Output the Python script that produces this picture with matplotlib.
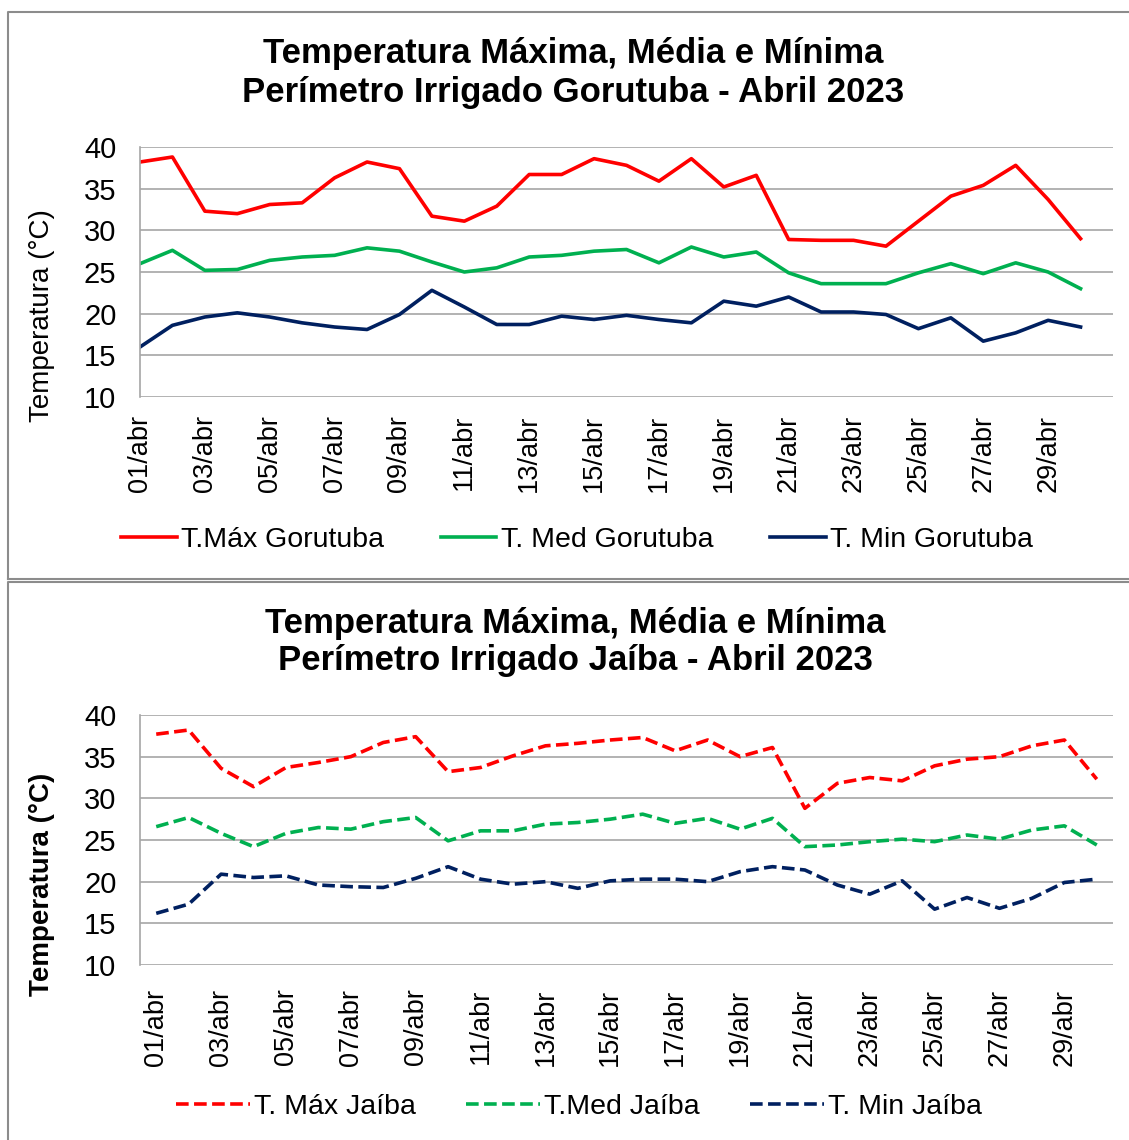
import matplotlib
matplotlib.use("Agg")
import matplotlib.pyplot as plt
from matplotlib.lines import Line2D
import numpy as np

plt.rcParams['font.family'] = ['Liberation Sans', 'DejaVu Sans']

days = [f"{d:02d}/abr" for d in range(1, 31)]

gor_max = [38.2, 38.8, 32.3, 32.0, 33.1, 33.3, 36.3, 38.2, 37.4, 31.7, 31.1, 32.9, 36.7, 36.7, 38.6,
           37.8, 35.9, 38.6, 35.2, 36.6, 28.9, 28.8, 28.8, 28.1, 31.1, 34.1, 35.4, 37.8, 33.7, 29.0]
gor_med = [26.0, 27.6, 25.2, 25.3, 26.4, 26.8, 27.0, 27.9, 27.5, 26.2, 25.0, 25.5, 26.8, 27.0, 27.5,
           27.7, 26.1, 28.0, 26.8, 27.4, 24.9, 23.6, 23.6, 23.6, 24.9, 26.0, 24.8, 26.1, 25.0, 23.0]
gor_min = [16.0, 18.6, 19.6, 20.1, 19.6, 18.9, 18.4, 18.1, 19.9, 22.8, 20.8, 18.7, 18.7, 19.7, 19.3,
           19.8, 19.3, 18.9, 21.5, 20.9, 22.0, 20.2, 20.2, 19.9, 18.2, 19.5, 16.7, 17.7, 19.2, 18.4]

jai_max = [37.7, 38.2, 33.6, 31.4, 33.7, 34.3, 35.0, 36.7, 37.4, 33.2, 33.7, 35.1, 36.3, 36.6, 37.0,
           37.3, 35.7, 37.0, 35.0, 36.1, 28.8, 31.8, 32.5, 32.1, 33.9, 34.7, 35.0, 36.3, 37.0, 32.3]
jai_med = [26.6, 27.7, 25.8, 24.2, 25.8, 26.5, 26.3, 27.2, 27.7, 24.9, 26.1, 26.1, 26.9, 27.1, 27.5,
           28.1, 27.0, 27.6, 26.3, 27.6, 24.2, 24.4, 24.8, 25.1, 24.8, 25.6, 25.1, 26.2, 26.7, 24.4]
jai_min = [16.2, 17.3, 20.9, 20.5, 20.7, 19.6, 19.4, 19.3, 20.4, 21.8, 20.3, 19.7, 20.0, 19.2, 20.1,
           20.3, 20.3, 20.0, 21.2, 21.8, 21.4, 19.6, 18.5, 20.1, 16.7, 18.1, 16.8, 18.0, 19.9, 20.3]

yticks = [10, 15, 20, 25, 30, 35, 40]

RED, GREEN, NAVY = '#FF0000', '#00B050', '#002060'
GRID = '#A6A6A6'
DASH = (3.5, 1.5)

W, H = 1129, 1140
fig = plt.figure(figsize=(W / 100, H / 100), dpi=100)

# panel borders
for (y0, y1) in [(12, 579), (582, 1150)]:
    xs = [8 / W, 8 / W, 1.01, 1.01, 8 / W]
    ys = [1 - y1 / H, 1 - y0 / H, 1 - y0 / H, 1 - y1 / H, 1 - y1 / H]
    fig.add_artist(Line2D(xs, ys, transform=fig.transFigure, color='#8C8C8C', lw=1.5))


def setup(ax, bold_label):
    ax.set_ylim(10, 40)
    ax.set_yticks(yticks)
    ax.grid(axis='y', color=GRID, lw=1.2)
    ax.set_axisbelow(True)
    for s in ['top', 'right', 'bottom']:
        ax.spines[s].set_visible(False)
    ax.spines['left'].set_color(GRID)
    ax.spines['left'].set_linewidth(1.2)
    ax.tick_params(axis='y', length=0, pad=17, labelsize=21)
    ax.tick_params(axis='x', length=0, labelsize=19.5, rotation=90)
    ax.set_ylabel('Temperatura (°C)', fontsize=20, fontweight='bold' if bold_label else 'normal')
    ax.yaxis.set_label_coords(-0.087, 0.324)


x = np.arange(len(days))

# ---- top chart (Gorutuba)
ax1 = fig.add_axes([140 / W, 1 - 397 / H, 973 / W, 250 / H])
ax1.plot(x, gor_max, color=RED, lw=2.6, label='T.Máx Gorutuba')
ax1.plot(x, gor_med, color=GREEN, lw=2.6, label='T. Med Gorutuba')
ax1.plot(x, gor_min, color=NAVY, lw=2.6, label='T. Min Gorutuba')
ax1.set_xlim(0, 30)
ax1.set_xticks(x[::2])
ax1.set_xticklabels(days[::2])
setup(ax1, False)
ax1.tick_params(axis='x', pad=13)
fig.text(573 / W, 1 - 73 / H, 'Temperatura Máxima, Média e Mínima\nPerímetro Irrigado Gorutuba - Abril 2023',
         ha='center', va='center', fontsize=25, fontweight='bold', linespacing=1.22)
fig.legend(handles=ax1.get_lines(), loc='center', bbox_to_anchor=(577 / W, 1 - 540 / H), ncol=3,
           frameon=False, fontsize=20.5, handlelength=1.95, handletextpad=0.15, columnspacing=2.0)

# ---- bottom chart (Jaíba)
ax2 = fig.add_axes([140 / W, 1 - 965 / H, 973 / W, 250 / H])
ax2.plot(x, jai_max, color=RED, lw=2.6, ls='--', dashes=DASH, label='T. Máx Jaíba')
ax2.plot(x, jai_med, color=GREEN, lw=2.6, ls='--', dashes=DASH, label='T.Med Jaíba')
ax2.plot(x, jai_min, color=NAVY, lw=2.6, ls='--', dashes=DASH, label='T. Min Jaíba')
ax2.set_xlim(-0.5, 29.5)
ax2.set_xticks(x[::2])
ax2.set_xticklabels(days[::2])
setup(ax2, True)
ax2.tick_params(axis='x', pad=17)
fig.text(575 / W, 1 - 642 / H, 'Temperatura Máxima, Média e Mínima\nPerímetro Irrigado Jaíba - Abril 2023',
         ha='center', va='center', fontsize=25, fontweight='bold', linespacing=1.12)
fig.legend(handles=ax2.get_lines(), loc='center', bbox_to_anchor=(579 / W, 1 - 1107 / H), ncol=3,
           frameon=False, fontsize=20.5, handlelength=2.6, handletextpad=0.15, columnspacing=1.75)

fig.savefig('out.png', dpi=100, facecolor='white')
